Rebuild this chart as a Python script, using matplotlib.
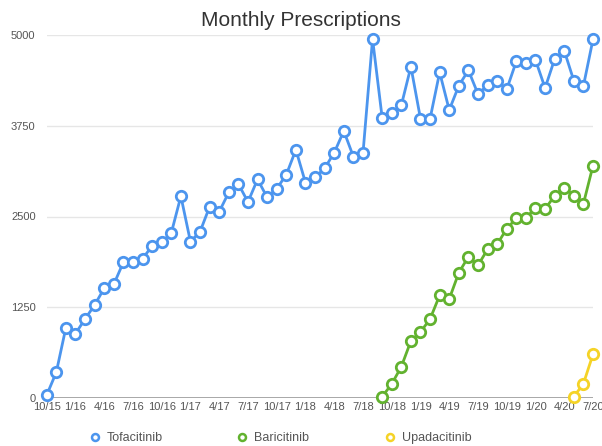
import matplotlib
matplotlib.use("Agg")
import matplotlib.pyplot as plt

plt.rcParams['font.family'] = ['Liberation Sans', 'DejaVu Sans']

months = []
m, y = 10, 15
for i in range(58):
    months.append(f"{m}/{y}")
    m += 1
    if m > 12:
        m = 1
        y += 1

tofacitinib = [40, 354, 968, 886, 1088, 1281, 1511, 1566, 1869, 1878,
               1919, 2094, 2145, 2273, 2780, 2153, 2291, 2635, 2566, 2833,
               2948, 2700, 3012, 2764, 2883, 3076, 3420, 2966, 3040, 3164,
               3379, 3678, 3324, 3370, 4945, 3861, 3930, 4031, 4564, 3847,
               3847, 4486, 3967, 4302, 4514, 4187, 4307, 4366, 4252, 4638,
               4619, 4656, 4270, 4669, 4784, 4370, 4298, 4940]
baricitinib_start = 35
baricitinib = [18, 193, 431, 785, 909, 1088, 1414, 1364, 1726, 1946,
               1827, 2048, 2117, 2332, 2475, 2484, 2613, 2603, 2787, 2897,
               2787, 2676, 3200]
upadacitinib_start = 55
upadacitinib = [18, 197, 602]

series_names = ["Tofacitinib", "Baricitinib", "Upadacitinib"]
colors = ["#4C95EE", "#62B22F", "#F5D327"]
yticks = [0, 1250, 2500, 3750, 5000]
xtick_idx = list(range(0, 58, 3))

fig = plt.figure(figsize=(6.02, 4.46), dpi=100)
ax = fig.add_axes([46.7 / 602, 48 / 446, 546.3 / 602, 363 / 446])

x_t = list(range(len(tofacitinib)))
x_b = list(range(baricitinib_start, baricitinib_start + len(baricitinib)))
x_u = list(range(upadacitinib_start, upadacitinib_start + len(upadacitinib)))

handles = []
for xs, ys, c, name in zip([x_t, x_b, x_u], [tofacitinib, baricitinib, upadacitinib],
                           colors, series_names):
    h, = ax.plot(xs, ys, color=c, lw=2.0, marker='o', ms=7.5, mfc='white',
                 mec=c, mew=2.0, clip_on=False, zorder=3, label=name)
    handles.append(h)

ax.set_xlim(0, 57)
ax.set_ylim(0, 5000)
ax.set_yticks(yticks)
ax.set_yticklabels([str(v) for v in yticks])
ax.set_xticks(xtick_idx)
ax.set_xticklabels([months[i] for i in xtick_idx])
for s in ax.spines.values():
    s.set_visible(False)
ax.tick_params(axis='both', length=0, labelsize=8, labelcolor='#555555')
ax.tick_params(axis='y', pad=8)
ax.tick_params(axis='x', pad=3)
for v in yticks[1:]:
    ax.axhline(v, color='#e6e6e6', lw=1, zorder=0)
ax.axhline(0, color='#9a9a9a', lw=1.2, zorder=1)

fig.text(0.5, 0.955, "Monthly Prescriptions", ha='center', va='center',
         fontsize=15, color='#333333')

leg_x = [82 / 602, 229 / 602, 377 / 602]
for h, lx in zip(handles, leg_x):
    lh, = ax.plot([], [], color=h.get_color(), lw=0, marker='o', ms=5,
                  mfc='white', mec=h.get_color(), mew=1.8)
    fig.legend([lh], [h.get_label()], loc='center left',
               bbox_to_anchor=(lx, 0.018), frameon=False, fontsize=9,
               handlelength=1.0, handletextpad=0.5, borderpad=0,
               labelcolor='#555555')

fig.savefig("out.png", dpi=100)
